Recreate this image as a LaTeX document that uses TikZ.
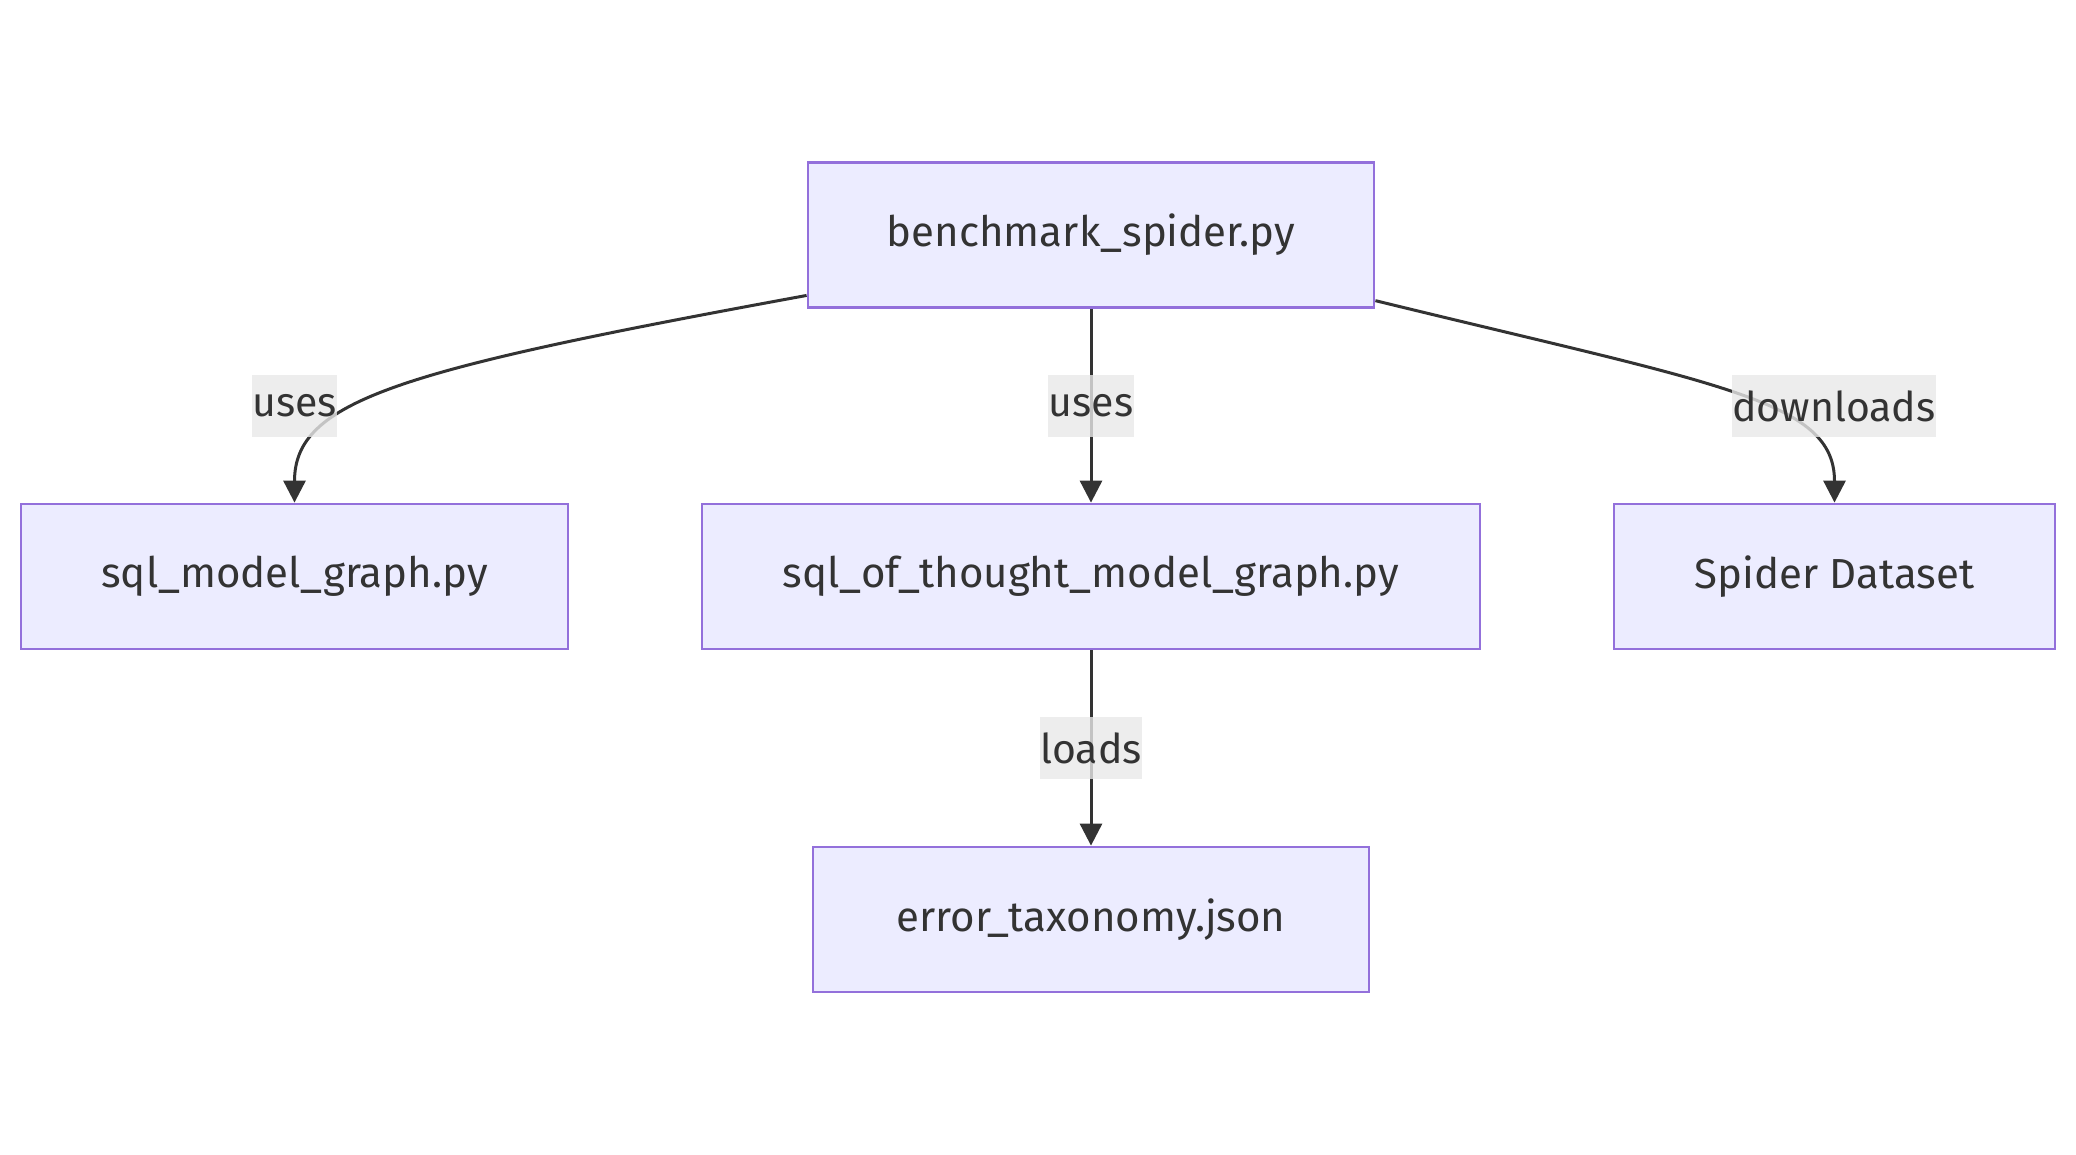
\documentclass[tikz,border=0pt]{standalone}
\usepackage{fontspec}
\setmainfont{Fira Sans}
\usetikzlibrary{arrows.meta}
\definecolor{boxfill}{HTML}{ECECFF}
\definecolor{boxdraw}{HTML}{9370DB}
\definecolor{ink}{HTML}{333333}
\definecolor{lblbg}{HTML}{E8E8E8}
\newcommand{\lowered}[1]{\raisebox{-3pt}{#1}}
\begin{document}
\begin{tikzpicture}[x=1pt,y=-1pt,
  box/.style={draw=boxdraw,fill=boxfill,line width=2.8pt,minimum height=145pt,inner sep=0pt,text=ink,font=\fontsize{42}{50}\selectfont},
  lbl/.style={fill=lblbg,fill opacity=0.8,text opacity=1,text=ink,inner xsep=0.5pt,inner ysep=0pt,minimum height=62pt,font=\fontsize{41}{49}\selectfont},
  edge/.style={draw=ink,line width=3pt,-{Triangle[length=22pt,width=22pt]}}]
\useasboundingbox (0,0) rectangle (2076,1155);
\node[box,minimum width=566pt] (top) at (1091,235) {benchmark\_spider.py};
\node[box,minimum width=547pt] (sqlm) at (294.5,576.5) {sql\_model\_graph.py};
\node[box,minimum width=778pt] (sot) at (1091,576.5) {sql\_of\_thought\_model\_graph.py};
\node[box,minimum width=441pt] (spider) at (1834.5,576.5) {Spider Dataset};
\node[box,minimum width=556pt] (err) at (1091,919.5) {error\_taxonomy.json};
\draw[edge] (top.192) .. controls (400,370) and (294.5,400) .. (sqlm.north);
\draw[edge] (top.south) -- (sot.north);
\draw[edge] (top.347) .. controls (1720,385) and (1834.5,400) .. (spider.north);
\draw[edge] (sot.south) -- (err.north);
\node[lbl] (l1) at (294.5,406) {\lowered{uses}};
\node[lbl] (l2) at (1091,406) {\lowered{uses}};
\node[lbl] (l3) at (1834,406) {\lowered{downloads}};
\node[lbl] (l4) at (1091,748) {\lowered{loads}};
\end{tikzpicture}
\end{document}
